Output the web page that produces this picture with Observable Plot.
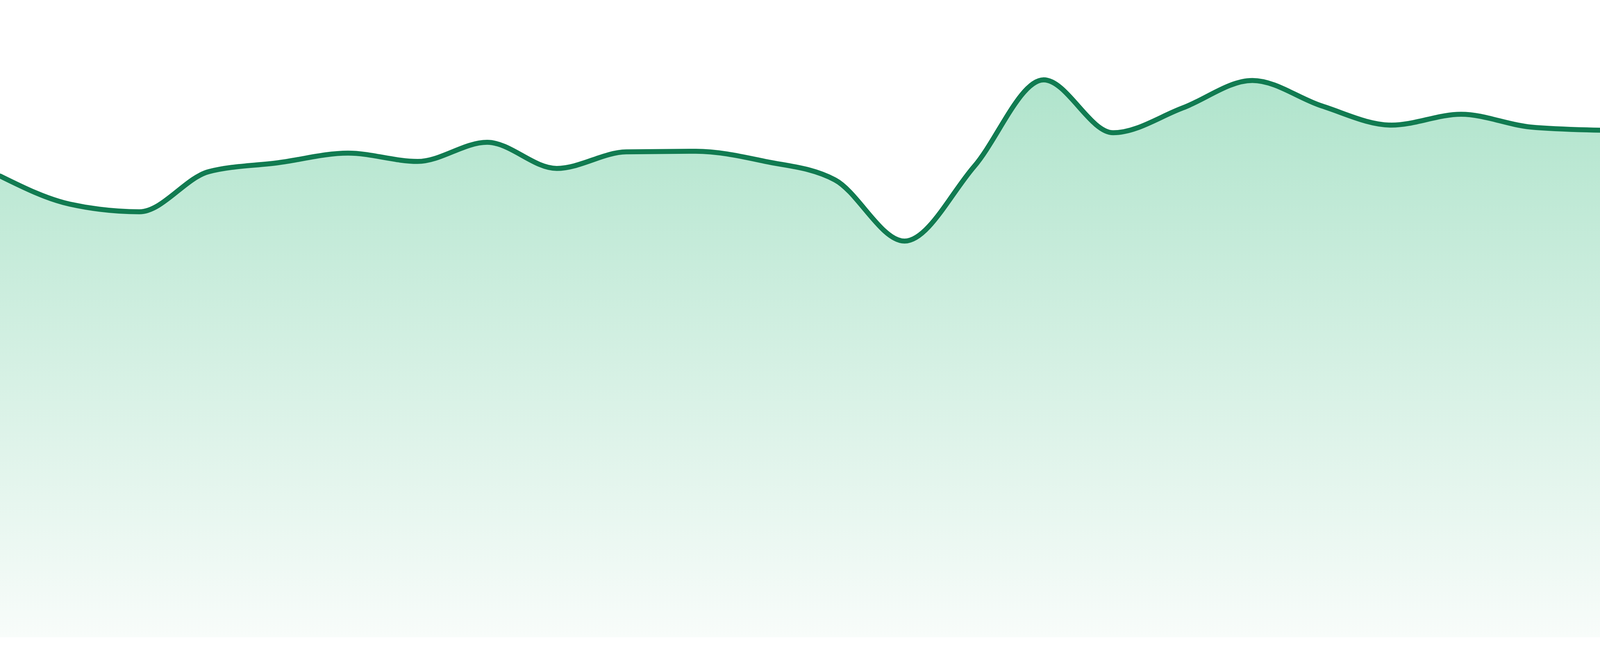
<!DOCTYPE html>
<html>
<head>
<meta charset="utf-8">
<script src="https://cdn.jsdelivr.net/npm/d3@7"></script>
<script src="https://cdn.jsdelivr.net/npm/@observablehq/plot@0.6"></script>
<style>
  html, body { margin: 0; padding: 0; background: #ffffff; overflow: hidden; }
  #chart svg { display: block; }
</style>
</head>
<body>
<div id="chart"></div>
<script>
// Data (24 evenly spaced samples, value scale 0–100)
const steps = d3.range(24);
const values = [
  72.4, 68.0, 66.8, 73.1, 74.5, 76.0, 74.7, 77.7, 73.6, 76.2, 76.3, 74.7,
  71.8, 62.2, 73.9, 87.5, 79.2, 83.1, 87.4, 83.4, 80.4, 82.1, 80.1, 79.6
];
const lineColor = "#117b51";
const fillTop = "#b0e4cc";
const fillBottom = "#f8fcfa";

const data = steps.map((s, i) => ({step: s, value: values[i]}));

// Fit the drawing to the real viewport, keeping the reference proportions (4800×1680)
const W = document.documentElement.clientWidth || window.innerWidth || 4800;
const H = window.innerHeight || document.documentElement.clientHeight || 1680;
const kx = W / 4800, ky = H / 1680;

const gradientDefs = (index, scales) => {
  const ns = "http://www.w3.org/2000/svg";
  const defs = document.createElementNS(ns, "defs");
  const grad = document.createElementNS(ns, "linearGradient");
  grad.setAttribute("id", "areaFill");
  grad.setAttribute("gradientUnits", "userSpaceOnUse");
  grad.setAttribute("x1", "0");
  grad.setAttribute("x2", "0");
  grad.setAttribute("y1", String(scales.y(d3.max(data, d => d.value))));
  grad.setAttribute("y2", String(scales.y(0)));
  [[0, fillTop], [1, fillBottom]].forEach(([o, c]) => {
    const stop = document.createElementNS(ns, "stop");
    stop.setAttribute("offset", String(o));
    stop.setAttribute("stop-color", c);
    grad.appendChild(stop);
  });
  defs.appendChild(grad);
  return defs;
};

const chart = Plot.plot({
  width: W,
  height: H,
  marginLeft: 0,
  marginRight: 0,
  marginTop: 0,
  marginBottom: Math.round(48 * ky),
  style: {maxWidth: "none", overflow: "hidden"},
  x: {domain: [0, 23], axis: null},
  y: {domain: [0, 100], axis: null},
  marks: [
    gradientDefs,
    Plot.areaY(data, {x: "step", y: "value", curve: "monotone-x", fill: "url(#areaFill)"}),
    Plot.lineY(data, {x: "step", y: "value", curve: "monotone-x", stroke: lineColor, strokeWidth: 15 * Math.min(kx, ky)})
  ]
});
document.getElementById("chart").appendChild(chart);
</script>
</body>
</html>
